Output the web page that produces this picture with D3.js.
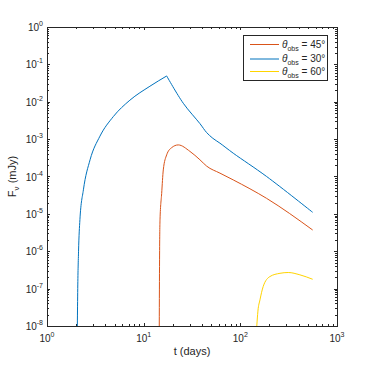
<html>
<head>
  <script src="https://d3js.org/d3.v7.min.js"></script>
  <style>
    body { margin: 0; background: #fff; }
    text { font-family: "Liberation Sans", Arial, sans-serif; fill: #262626; }
  </style>
</head>
<body>
<script>
// light curves: [t (days), F (mJy)]
// blue: rising part and decaying part (sharp peak between them)
var curve45rise = [[2.06,1e-8],[2.08,1e-7],[2.12,1e-6],[2.19,7e-6],[2.38,4.4e-5],[2.79,2.8e-4],
  [3.53,1.2e-3],[4.85,4.0e-3],[7.2,1.1e-2],[11.6,2.6e-2],[17.3,4.9e-2]];
var curve45fall = [[17.3,4.9e-2],[25.7,9.1e-3],[38.2,2.6e-3],[44.8,1.5e-3],[52,1.05e-3],
  [61.5,7.8e-4],[84.5,4.2e-4],[187,1.0e-4],[560,1.1e-5]];
var curve30 = [[14.5,1e-8],[14.6,5.9e-7],[14.76,6.9e-6],[15.35,3.5e-5],[15.96,1.5e-4],
  [17.3,3.8e-4],[19.45,5.9e-4],[22.8,7.0e-4],[30.1,4.7e-4],[38.2,2.8e-4],[44.8,1.9e-4],
  [61.5,1.23e-4],[84.5,8.1e-5],[187,2.6e-5],[560,3.7e-6]];
var curve60 = [[148,1e-8],[152,2.5e-8],[159.6,5e-8],[172.6,1.15e-7],[202,2.1e-7],
  [257,2.57e-7],[313,2.7e-7],[413,2.34e-7],[560,1.78e-7]];
var xTicks = [1, 10, 100, 1000];
var yTicks = [1e-8,1e-7,1e-6,1e-5,1e-4,1e-3,1e-2,1e-1,1];
// legend text as in the original figure (labels are swapped vs. line colours there)
var legendLabels = ["45", "30", "60"];
var legendColors = ["#D95319", "#0072BD", "#FFD400"];

var W = 372, H = 366;
var m = {left: 47, top: 27, right: 337, bottom: 326};

var svg = d3.select("body").append("svg").attr("width", W).attr("height", H);

var x = d3.scaleLog().domain([1, 1000]).range([m.left, m.right]);
var y = d3.scaleLog().domain([1e-8, 1]).range([m.bottom, m.top]);

function minorTicks(sc) {
  var d = sc.domain(), out = [];
  for (var e = Math.log10(d[0]); e < Math.log10(d[1]); e++)
    for (var k = 2; k <= 9; k++) out.push(k * Math.pow(10, e));
  return out;
}

var ax = svg.append("g").attr("stroke", "#262626").attr("stroke-width", 1).attr("fill", "none");
// box
ax.append("rect").attr("x", m.left + 0.5).attr("y", m.top + 0.5)
  .attr("width", m.right - m.left).attr("height", m.bottom - m.top);

// x ticks, bottom and top, inside
xTicks.forEach(function(t) {
  var px = Math.round(x(t)) + 0.5;
  ax.append("line").attr("x1", px).attr("x2", px).attr("y1", m.bottom).attr("y2", m.bottom - 3);
  ax.append("line").attr("x1", px).attr("x2", px).attr("y1", m.top).attr("y2", m.top + 3);
});
minorTicks(x).forEach(function(t) {
  var px = Math.round(x(t)) + 0.5;
  ax.append("line").attr("x1", px).attr("x2", px).attr("y1", m.bottom).attr("y2", m.bottom - 2);
  ax.append("line").attr("x1", px).attr("x2", px).attr("y1", m.top).attr("y2", m.top + 2);
});
yTicks.forEach(function(t) {
  var py = Math.round(y(t)) + 0.5;
  ax.append("line").attr("y1", py).attr("y2", py).attr("x1", m.left).attr("x2", m.left + 3);
  ax.append("line").attr("y1", py).attr("y2", py).attr("x1", m.right).attr("x2", m.right - 3);
});
minorTicks(y).forEach(function(t) {
  var py = Math.round(y(t)) + 0.5;
  ax.append("line").attr("y1", py).attr("y2", py).attr("x1", m.left).attr("x2", m.left + 2);
  ax.append("line").attr("y1", py).attr("y2", py).attr("x1", m.right).attr("x2", m.right - 2);
});

// tick labels
function expLabel(g, v, px, py, anchor) {
  var e = Math.round(Math.log10(v));
  var t = g.append("text").attr("x", px).attr("y", py).attr("text-anchor", anchor)
    .style("font-size", "10px");
  t.append("tspan").text("10");
  t.append("tspan").attr("dy", -5).style("font-size", "7px").text(e);
}
xTicks.forEach(function(t) { expLabel(svg, t, x(t), 342, "middle"); });
yTicks.forEach(function(t) { expLabel(svg, t, 43, y(t) + 4, "end"); });

// axis titles
svg.append("text").attr("x", (m.left + m.right) / 2).attr("y", 355)
  .attr("text-anchor", "middle").style("font-size", "11px").text("t (days)");
var yl = svg.append("text").attr("transform", "translate(16," + ((m.top + m.bottom) / 2) + ") rotate(-90)")
  .attr("text-anchor", "middle").style("font-size", "11px");
yl.append("tspan").text("F");
yl.append("tspan").attr("dy", 3).style("font-size", "8px").text("\u03BD");
yl.append("tspan").attr("dy", -3).text("  (mJy)");

// curves
var smooth = d3.line().x(function(d) { return x(d[0]); }).y(function(d) { return y(d[1]); })
  .curve(d3.curveMonotoneX);
var straight = d3.line().x(function(d) { return x(d[0]); }).y(function(d) { return y(d[1]); })
  .curve(d3.curveCatmullRom.alpha(0.5));
svg.append("clipPath").attr("id", "clip").append("rect")
  .attr("x", m.left).attr("y", m.top).attr("width", m.right - m.left).attr("height", m.bottom - m.top);
[[curve45rise, "#0072BD", smooth], [curve45fall, "#0072BD", straight],
 [curve30, "#D95319", smooth], [curve60, "#FFD400", smooth]].forEach(function(c) {
  svg.append("path").datum(c[0]).attr("d", c[2]).attr("fill", "none")
    .attr("stroke", c[1]).attr("stroke-width", 1).attr("clip-path", "url(#clip)");
});

// legend
var lg = svg.append("g");
lg.append("rect").attr("x", 243.5).attr("y", 35.5).attr("width", 84).attr("height", 45)
  .attr("fill", "#fff").attr("stroke", "#262626");
var rowsY = [44.5, 59, 71.5];
legendLabels.forEach(function(lab, i) {
  lg.append("line").attr("x1", 250).attr("x2", 279).attr("y1", rowsY[i]).attr("y2", rowsY[i])
    .attr("stroke", legendColors[i]).attr("stroke-width", 1);
  var t = lg.append("text").attr("x", 282).attr("y", rowsY[i] + 3).style("font-size", "10px");
  t.append("tspan").style("font-style", "italic").text("\u03B8");
  t.append("tspan").attr("dy", 3).style("font-size", "7px").text("obs");
  t.append("tspan").attr("dy", -3).text(" = " + lab + "\u00B0");
});
</script>
</body>
</html>
